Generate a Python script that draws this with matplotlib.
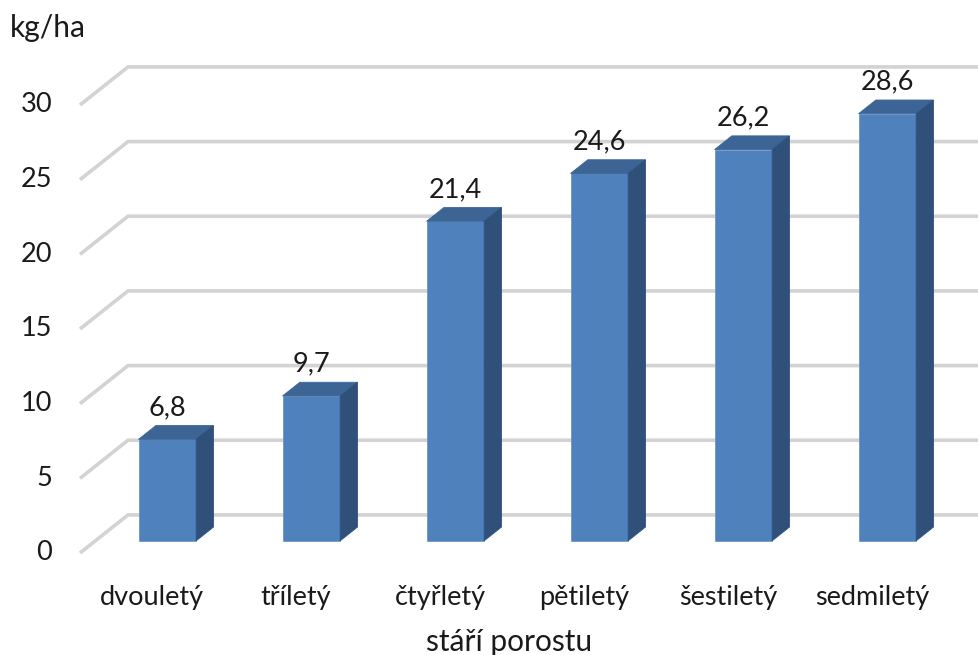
import matplotlib.pyplot as plt
from matplotlib.patches import Polygon

plt.rcParams['font.family'] = ['Lato', 'DejaVu Sans']

kategorie = ['dvouletý', 'tříletý', 'čtyřletý', 'pětiletý', 'šestiletý', 'sedmiletý']
hodnoty = [6.8, 9.7, 21.4, 24.6, 26.2, 28.6]
popisky = ['6,8', '9,7', '21,4', '24,6', '26,2', '28,6']
yticks = [0, 5, 10, 15, 20, 25, 30]

# fake 3D: a point at depth d (0 front .. 1 back wall) is shifted by (DX*d, DY*d) in data units
DX = 1 / 3
DY = 2.55
d_front, d_back = 0.32, 0.68
half_w = 0.2

c_front = '#4F81BD'
c_top = '#3C6596'
c_side = '#2F5079'
c_grid = '#D3D3D3'
fs = 19.5
fs_title = 21.5

fig = plt.figure(figsize=(9.79, 6.55), dpi=100)
W, H = 979, 655
ax = fig.add_axes([80 / W, 102 / H, 864 / W, 448 / H])
ax.set_xlim(-0.5, len(kategorie) - 0.5)
ax.set_ylim(0, 30)
ax.axis('off')

x_left = -0.5
x_right = len(kategorie) - 0.5 + DX

# gridlines: diagonal on the side wall + horizontal on the back wall
for v in yticks:
    ax.plot([x_left, x_left + DX, x_right], [v, v + DY, v + DY],
            color=c_grid, lw=2.6, solid_capstyle='butt', clip_on=False, zorder=1)
    ax.text(x_left - 0.195, v, str(v), ha='right', va='center', fontsize=fs, color='#1a1a1a')

for i, v in enumerate(hodnoty):
    x0 = i - half_w + DX * d_front
    x1 = i + half_w + DX * d_front
    y0 = DY * d_front
    y1 = v + DY * d_front
    ox = DX * (d_back - d_front)
    oy = DY * (d_back - d_front)
    front = Polygon([(x0, y0), (x1, y0), (x1, y1), (x0, y1)], closed=True,
                    facecolor=c_front, edgecolor='#6d96c8', lw=0.6, zorder=3, clip_on=False)
    top = Polygon([(x0, y1), (x1, y1), (x1 + ox, y1 + oy), (x0 + ox, y1 + oy)], closed=True,
                  facecolor=c_top, edgecolor=c_top, lw=0.6, zorder=3, clip_on=False)
    side = Polygon([(x1, y0), (x1 + ox, y0 + oy), (x1 + ox, y1 + oy), (x1, y1)], closed=True,
                   facecolor=c_side, edgecolor=c_side, lw=0.6, zorder=3, clip_on=False)
    for p in (front, top, side):
        ax.add_patch(p)
    ax.annotate(popisky[i], (i + DX * d_front, v + DY * d_back), xytext=(0, 4),
                textcoords='offset points', ha='center', va='bottom',
                fontsize=fs, color='#1a1a1a', zorder=4, annotation_clip=False)
    ax.text(i, -2.95, kategorie[i], ha='center', va='center', fontsize=fs, color='#1a1a1a')

fig.text(10 / W, 1 - 28 / H, 'kg/ha', ha='left', va='center', fontsize=fs_title, color='#1a1a1a')
fig.text(509 / W, 4 / H, 'stáří porostu', ha='center', va='baseline', fontsize=fs_title, color='#1a1a1a')

fig.savefig('out.png', dpi=100)
